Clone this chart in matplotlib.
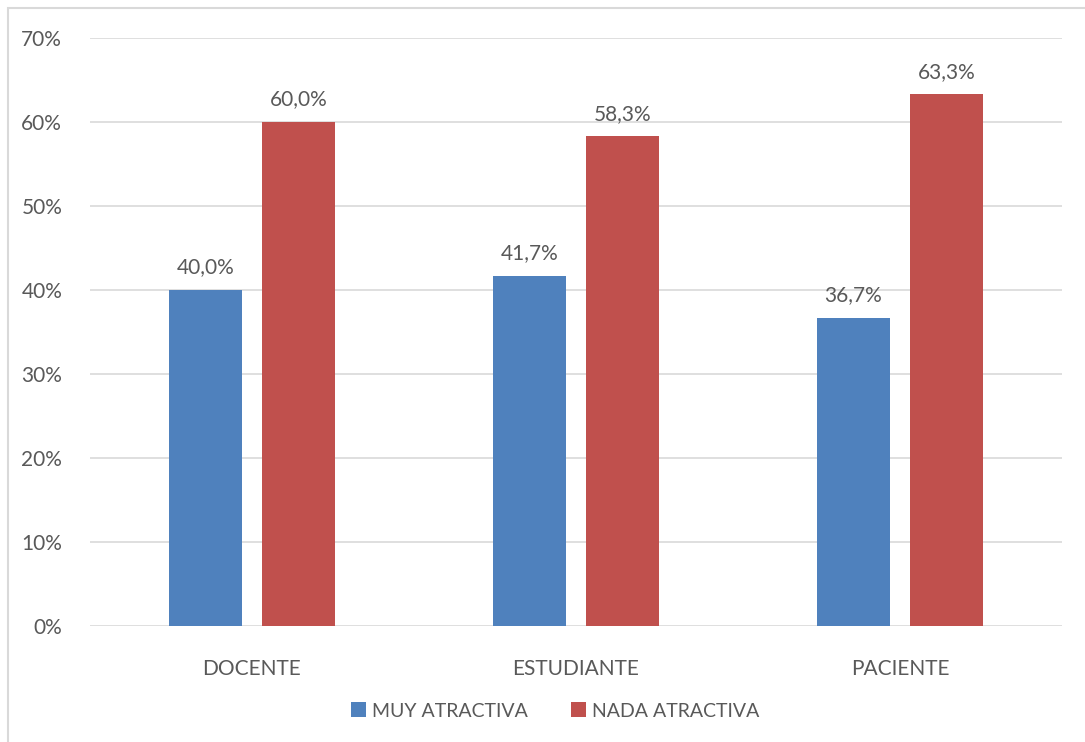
import numpy as np
import matplotlib.pyplot as plt
import matplotlib.patches as mpatches

# Data
categories = ['DOCENTE', 'ESTUDIANTE', 'PACIENTE']
series_names = ['MUY ATRACTIVA', 'NADA ATRACTIVA']
muy = [40.0, 41.7, 36.7]
nada = [60.0, 58.3, 63.3]
y_ticks = [0, 10, 20, 30, 40, 50, 60, 70]

blue = '#4F81BD'
red = '#C0504D'
text_col = '#595959'
grid_col = '#D9D9D9'

plt.rcParams['font.family'] = ['Lato', 'DejaVu Sans']

fig = plt.figure(figsize=(10.85, 7.42), dpi=100)
ax = fig.add_axes([90 / 1085, 1 - 626 / 742, 972 / 1085, 588 / 742])

# Outer chart border (top and left visible)
fig.add_artist(mpatches.Rectangle((8 / 1085, -0.1), 1.2, 1 - 8 / 742 + 0.1,
                                  transform=fig.transFigure, fill=False,
                                  edgecolor=grid_col, linewidth=1.5))

x = np.arange(len(categories)) + 0.5
width = 0.225
off = 0.1435

b1 = ax.bar(x - off, muy, width, color=blue, label=series_names[0], zorder=3)
b2 = ax.bar(x + off, nada, width, color=red, label=series_names[1], zorder=3)

for bars, vals in [(b1, muy), (b2, nada)]:
    for rect, v in zip(bars, vals):
        ax.annotate(('%.1f%%' % v).replace('.', ','),
                    (rect.get_x() + rect.get_width() / 2, v),
                    xytext=(0, 9), textcoords='offset points',
                    ha='center', va='bottom', fontsize=15, color=text_col)

ax.set_xlim(0, 3)
ax.set_ylim(0, 70)
ax.set_yticks(y_ticks)
ax.set_yticklabels(['%d%%' % t for t in y_ticks])
ax.set_xticks(x)
ax.set_xticklabels(categories)
ax.tick_params(axis='both', length=0, labelsize=15, labelcolor=text_col)
ax.tick_params(axis='y', pad=20)
ax.tick_params(axis='x', pad=24)
ax.grid(axis='y', color=grid_col, linewidth=1.2, zorder=0)
for s in ax.spines.values():
    s.set_visible(False)

fig.legend(handles=[b1, b2], loc='center', bbox_to_anchor=(555 / 1085, 1 - 711 / 742),
           ncol=2, frameon=False, fontsize=14, labelcolor=text_col,
           handlelength=0.8, handleheight=0.8, handletextpad=0.3, columnspacing=2.2)

fig.savefig('out.png', dpi=100)
